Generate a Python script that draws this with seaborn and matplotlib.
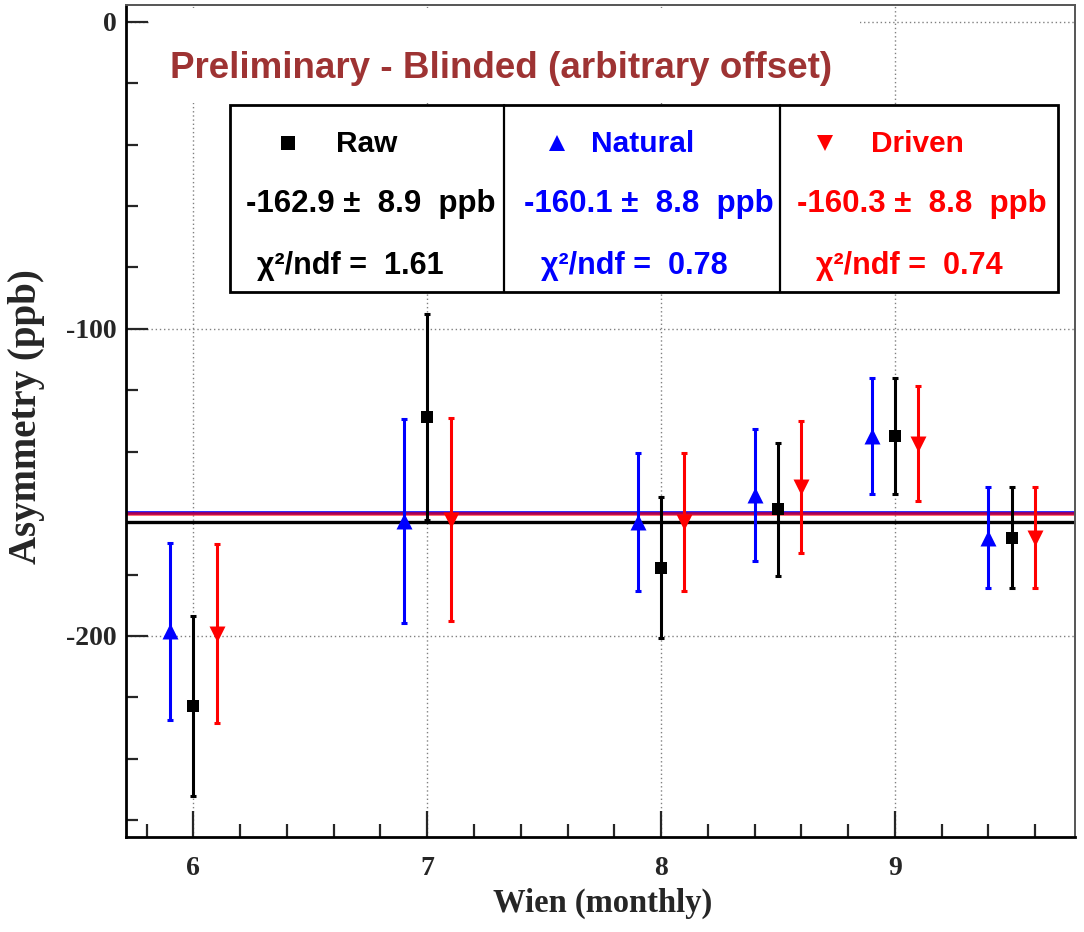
import matplotlib
matplotlib.use("Agg")
import matplotlib.pyplot as plt
from matplotlib.patches import Rectangle
from matplotlib.lines import Line2D
from matplotlib.ticker import MultipleLocator, FixedLocator
import seaborn as sns
import pandas as pd

# ---- data -------------------------------------------------------------
wien = [6.0, 7.0, 8.0, 8.5, 9.0, 9.5]
offset = 0.1

raw_asym = [-222.9, -128.7, -177.8, -158.8, -134.9, -168.0]
raw_err = [29.4, 33.5, 23.0, 21.6, 18.8, 16.5]

nat_asym = [-198.5, -162.6, -162.9, -154.1, -134.9, -168.0]
nat_err = [28.9, 33.2, 22.4, 21.4, 18.8, 16.5]

drv_asym = [-199.3, -162.2, -162.9, -151.5, -137.4, -168.0]
drv_err = [29.1, 33.1, 22.4, 21.5, 18.8, 16.5]

fit_names = ["Raw", "Natural", "Driven"]
fit_mean = [-162.9, -160.1, -160.3]
fit_err = [8.9, 8.8, 8.8]
fit_chi2 = [1.61, 0.78, 0.74]

x_ticks = [6, 7, 8, 9]
y_ticks = [0, -100, -200]

# ---- style ------------------------------------------------------------
sns.set_style("ticks")
plt.rcParams["font.family"] = ["Liberation Serif", "DejaVu Serif"]
plt.rcParams["font.weight"] = "bold"

W, H = 1084, 932
fig = plt.figure(figsize=(W / 100, H / 100), dpi=100)
ax = fig.add_axes([126 / W, (H - 837) / H, (1075 - 126) / W, (837 - 5) / H])


def fx(px):
    return px / W


def fy(py):
    return 1 - py / H


BLUE = "#0000ff"
RED = "#ff0000"
BLACK = "#000000"

series = [
    ("Raw", [w for w in wien], raw_asym, raw_err, BLACK, "s", 9),
    ("Natural", [w - offset for w in wien], nat_asym, nat_err, BLUE, "^", 11.5),
    ("Driven", [w + offset for w in wien], drv_asym, drv_err, RED, "v", 11.5),
]

# fitted constants
ax.axhline(fit_mean[0], color=BLACK, lw=2.4, zorder=2)
ax.axhline(fit_mean[1], color=BLUE, lw=2.6, zorder=2)
ax.axhline(fit_mean[2], color=RED, lw=2.6, alpha=0.68, zorder=2)

for name, xs, ys, es, col, mk, ms in series:
    ax.errorbar(xs, ys, yerr=es, fmt="none", ecolor=col, elinewidth=2.2,
                capsize=2.5, capthick=2.2, zorder=3)
    df = pd.DataFrame({"wien": xs, "asym": ys})
    sns.scatterplot(data=df, x="wien", y="asym", ax=ax, marker=mk, color=col,
                    s=ms ** 2, edgecolor=col, linewidth=0, zorder=4, legend=False)

# ---- axes -------------------------------------------------------------
ax.set_xlim(5.712, 9.77)
ax.set_ylim(-265.5, 5.5)
ax.xaxis.set_major_locator(FixedLocator(x_ticks))
ax.xaxis.set_minor_locator(MultipleLocator(0.2))
ax.yaxis.set_major_locator(FixedLocator(y_ticks))
ax.yaxis.set_minor_locator(MultipleLocator(20))
ax.set_xticklabels([str(t) for t in x_ticks])
ax.set_yticklabels([str(t) for t in y_ticks])

ax.tick_params(axis="x", which="major", direction="in", length=19, width=1.6,
               pad=14, labelsize=20, top=False)
ax.tick_params(axis="x", which="minor", direction="in", length=9.5, width=1.6, top=False)
ax.tick_params(axis="y", which="major", direction="in", length=16, width=1.6,
               pad=7, labelsize=20, right=False)
ax.tick_params(axis="y", which="minor", direction="in", length=8.5, width=1.6, right=False)
for lab in ax.get_xticklabels() + ax.get_yticklabels():
    lab.set_fontweight("bold")

ax.set_axisbelow(True)
ax.grid(True, which="major", color="#808080", linestyle=(0, (1, 2)), lw=1.0)

for side in ["left", "bottom"]:
    ax.spines[side].set_linewidth(2.0)
    ax.spines[side].set_color(BLACK)
for side in ["top", "right"]:
    ax.spines[side].set_visible(True)
    ax.spines[side].set_linewidth(1.4)
    ax.spines[side].set_color("#555555")

ax.set_xlabel("Wien (monthly)", fontsize=23.5, fontweight="bold")
ax.set_ylabel("Asymmetry (ppb)", fontsize=28, fontweight="bold")
ax.xaxis.set_label_coords(0.5026, -0.0613)
ax.yaxis.set_label_coords(-0.085, 0.505)

# ---- title pave -------------------------------------------------------
fig.add_artist(Rectangle((fx(150), fy(103)), fx(860) - fx(150), fy(8) - fy(103),
                         transform=fig.transFigure, facecolor="white",
                         edgecolor="none", zorder=1))
fig.text(fx(501), fy(78), "Preliminary - Blinded (arbitrary offset)",
         family=["Liberation Sans", "DejaVu Sans"], fontweight="bold",
         fontsize=26.5, color="#9e3333", ha="center", va="baseline", zorder=5)

# ---- fit summary box --------------------------------------------------
box_l, box_r, box_t, box_b = 230, 1058, 105, 292
fig.add_artist(Rectangle((fx(box_l), fy(box_b)), fx(box_r) - fx(box_l),
                         fy(box_t) - fy(box_b), transform=fig.transFigure,
                         facecolor="white", edgecolor=BLACK, lw=2.0, zorder=1))
for xd in [504, 780]:
    fig.add_artist(Line2D([fx(xd), fx(xd)], [fy(box_t), fy(box_b)],
                          transform=fig.transFigure, color=BLACK, lw=1.6, zorder=2))

col_marker_x = [288, 557, 825]
col_name_x = [336, 591, 871]
col_val_x = [246, 524, 797]
col_chi_x = [257, 541, 816]
col_colors = [BLACK, BLUE, RED]
col_markers = [("s", 10), ("^", 11), ("v", 11)]
sans = ["Liberation Sans", "DejaVu Sans"]

for i in range(3):
    c = col_colors[i]
    mk, ms = col_markers[i]
    fig.add_artist(Line2D([fx(col_marker_x[i])], [fy(143)], marker=mk,
                          markersize=ms, color=c, markeredgewidth=0,
                          linestyle="none", transform=fig.transFigure, zorder=3))
    fig.text(fx(col_name_x[i]), fy(144), fit_names[i], family=sans,
             fontweight="bold", fontsize=21.5, color=c, ha="left", va="center", zorder=5)
    fig.text(fx(col_val_x[i]), fy(204),
             f"{fit_mean[i]:.1f} \u00b1  {fit_err[i]:.1f}  ppb", family=sans,
             fontweight="bold", fontsize=22.5, color=c, ha="left", va="center", zorder=5)
    fig.text(fx(col_chi_x[i]), fy(266),
             f"\u03c7\u00b2/ndf =  {fit_chi2[i]:.2f}", family=sans,
             fontweight="bold", fontsize=22, color=c, ha="left", va="center", zorder=5)

fig.savefig("out.png", dpi=100, facecolor="white")
